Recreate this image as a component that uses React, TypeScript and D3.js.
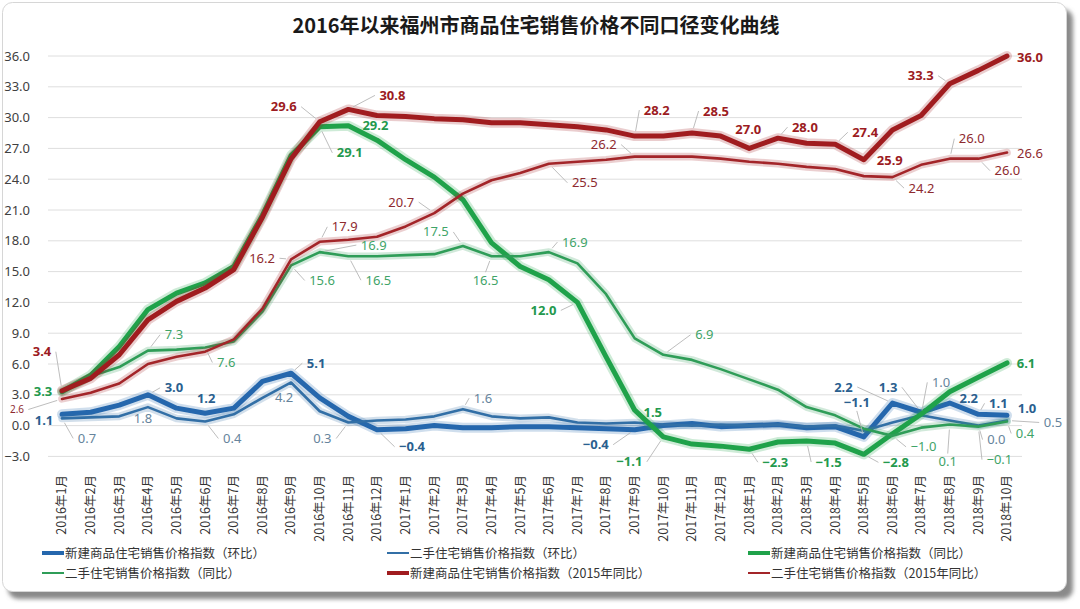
import React from 'react';
import * as d3 from 'd3';

const title = '2016年以来福州市商品住宅销售价格不同口径变化曲线';

const months = [
  '2016年1月', '2016年2月', '2016年3月', '2016年4月', '2016年5月', '2016年6月',
  '2016年7月', '2016年8月', '2016年9月', '2016年10月', '2016年11月', '2016年12月',
  '2017年1月', '2017年2月', '2017年3月', '2017年4月', '2017年5月', '2017年6月',
  '2017年7月', '2017年8月', '2017年9月', '2017年10月', '2017年11月', '2017年12月',
  '2018年1月', '2018年2月', '2018年3月', '2018年4月', '2018年5月', '2018年6月',
  '2018年7月', '2018年8月', '2018年9月', '2018年10月',
];

// 新建商品住宅销售价格指数（环比）
const newMoM = [1.1, 1.3, 2.0, 3.0, 1.7, 1.2, 1.7, 4.3, 5.1, 2.7, 0.9, -0.4, -0.3, 0.0, -0.2, -0.2, -0.1, -0.1, -0.2, -0.3, -0.4, 0.0, 0.2, -0.1, 0.0, 0.1, -0.2, -0.1, -1.1, 2.2, 1.3, 2.2, 1.1, 1.0];
// 二手住宅销售价格指数（环比）
const secMoM = [0.7, 0.8, 0.9, 1.8, 0.7, 0.4, 1.1, 2.7, 4.2, 1.4, 0.3, 0.5, 0.6, 0.9, 1.6, 0.9, 0.7, 0.8, 0.3, 0.2, 0.3, 0.1, 0.0, 0.1, 0.0, 0.1, -0.1, 0.0, -0.5, 0.3, 1.0, 0.5, 0.0, 0.5];
// 新建商品住宅销售价格指数（同比）
const newYoY = [3.3, 4.9, 7.7, 11.3, 12.9, 13.9, 15.5, 20.5, 26.3, 29.1, 29.2, 27.8, 25.9, 24.2, 22.0, 17.8, 15.5, 14.2, 12.0, 6.7, 1.5, -1.1, -1.8, -2.0, -2.3, -1.6, -1.5, -1.7, -2.8, -0.8, 1.1, 3.3, 4.7, 6.1];
// 二手住宅销售价格指数（同比）
const secYoY = [3.3, 4.8, 5.7, 7.3, 7.4, 7.6, 8.2, 11.1, 15.6, 16.9, 16.5, 16.5, 16.6, 16.7, 17.5, 16.5, 16.5, 16.9, 15.8, 12.8, 8.5, 6.9, 6.4, 5.5, 4.5, 3.5, 1.8, 1.0, -0.3, -1.0, -0.2, 0.1, -0.1, 0.4];
// 新建商品住宅销售价格指数（2015年同比）
const newYoY15 = [3.4, 4.6, 6.9, 10.3, 12.1, 13.4, 15.2, 20.3, 26.0, 29.6, 30.8, 30.2, 30.1, 29.9, 29.8, 29.5, 29.5, 29.3, 29.1, 28.8, 28.2, 28.2, 28.5, 28.2, 27.0, 28.0, 27.5, 27.4, 25.9, 28.8, 30.2, 33.3, 34.6, 36.0];
// 二手住宅销售价格指数（2015年同比）
const secYoY15 = [2.6, 3.2, 4.1, 6.0, 6.7, 7.2, 8.4, 11.4, 16.2, 17.9, 18.1, 18.4, 19.4, 20.7, 22.6, 23.9, 24.6, 25.5, 25.7, 25.9, 26.2, 26.2, 26.2, 26.0, 25.7, 25.5, 25.2, 25.0, 24.3, 24.2, 25.4, 26.0, 26.0, 26.6];

const seriesNames = [
  '新建商品住宅销售价格指数（环比）',
  '二手住宅销售价格指数（环比）',
  '新建商品住宅销售价格指数（同比）',
  '二手住宅销售价格指数（同比）',
  '新建商品住宅销售价格指数（2015年同比）',
  '二手住宅销售价格指数（2015年同比）',
];
const seriesValues = [newMoM, secMoM, newYoY, secYoY, newYoY15, secYoY15];

const yTicks = [-3, 0, 3, 6, 9, 12, 15, 18, 21, 24, 27, 30, 33, 36];

// styles per series
const styles = [
  { color: '#2567ad', width: 5, labelColor: '#2a5f8f', bold: true },
  { color: '#326fa6', width: 2.6, labelColor: '#66849c', bold: false },
  { color: '#1fa24a', width: 5, labelColor: '#23994d', bold: true },
  { color: '#2f9d58', width: 2.6, labelColor: '#3fa468', bold: false },
  { color: '#a01c1f', width: 5, labelColor: '#9c1b22', bold: true },
  { color: '#a32529', width: 2.6, labelColor: '#8e2a2f', bold: false },
];

// data label placement: [series, monthIndex, dx, dy, leader, fontSize?]
const labelSpecs: [number, number, number, number, number, number?][] = [
  [4, 0, -20, -39, 1], [4, 9, -36, -15, 1], [4, 10, 44, -14, 1], [4, 20, 22, -26, 1],
  [4, 22, 24, -22, 1], [4, 24, -1, -19, 0], [4, 25, 27, -11, 1], [4, 27, 30, -12, 1],
  [4, 28, 26, 1, 0], [4, 31, -29, -8, 1], [4, 33, 23, 1, 0],
  [5, 0, -45, 10.6, 1, 10], [5, 8, -29, -1, 1], [5, 9, 25, -15, 1], [5, 13, -33, -11, 1],
  [5, 17, 36, 19, 1], [5, 20, -31, -12, 1], [5, 29, 29, 11, 1], [5, 31, 22, -20, 1],
  [5, 32, 29, 12, 1], [5, 33, 23, 1, 0],
  [2, 0, -19, 0, 0], [2, 9, 30, 26, 1], [2, 10, 27, 0, 0], [2, 18, -34, 8, 1],
  [2, 20, 18, 2, 0], [2, 21, -34, 25, 1], [2, 24, 26, 13, 1], [2, 26, 22, 21, 1],
  [2, 28, 32, 8, 1], [2, 33, 19, 0, 0],
  [3, 3, 26, -16, 1], [3, 5, 21, 15, 1], [3, 8, 31, 15, 1], [3, 9, 54, -7, 1],
  [3, 10, 30, 24, 1], [3, 14, -27, -14, 1], [3, 15, -6, 24, 1], [3, 17, 26, -10, 1],
  [3, 21, 41, -20, 1], [3, 29, 31, 11, 1], [3, 31, -2, 37, 1], [3, 32, 21, 33, 1],
  [3, 33, 18, 12, 1],
  [0, 0, -18, 6, 0], [0, 3, 26, -7, 1], [0, 5, 1, -15, 0], [0, 8, 25, -10, 1],
  [0, 11, 35, 17, 1], [0, 20, -39, 15, 1], [0, 28, -7, -34, 1], [0, 29, -49, -16, 1],
  [0, 30, -33, -25, 1], [0, 31, 19, -5, 0], [0, 32, 20, -11, 1], [0, 33, 20, -7, 0],
  [1, 0, 25, 20, 1], [1, 3, -5, 11, 0], [1, 5, 27, 17, 1], [1, 8, -7, 15, 0],
  [1, 10, -26, 16, 1], [1, 14, 20, -11, 1], [1, 30, 20, -33, 1], [1, 32, 18, 14, 1],
  [1, 33, 46, 2, 1],
];

const W = 1080;
const H = 609;
const FONT = '"Noto Sans CJK SC", "Noto Sans", sans-serif';
const NUMFONT = '"Noto Sans", "Open Sans", sans-serif';

export default function App() {
  const x = d3.scalePoint<string>().domain(months).range([62, 1007]);
  const y = d3.scaleLinear().domain([-3, 36]).range([456.4, 56]);
  const line = d3
    .line<number>()
    .x((_, i) => x(months[i]) as number)
    .y((d) => y(d));

  const fmt = d3.format('.1f');

  const legendCols = [42, 387, 748];
  const legendRows = [553, 573];

  return (
    <div style={{ position: 'absolute', left: 0, top: 0 }}>
      <svg width={W} height={H} style={{ display: 'block' }} fontFamily={FONT}>
        <defs>
          <filter id="shadow" x="-5%" y="-5%" width="110%" height="110%">
            <feGaussianBlur stdDeviation="2" />
          </filter>
        </defs>
        <rect x={0} y={0} width={W} height={H} fill="#ffffff" />
        <rect x={8} y={9} width={1065} height={590} rx={10} fill="#8a8a8a" filter="url(#shadow)" />
        <rect x={2.5} y={2.5} width={1064} height={589} rx={10} fill="#ffffff" stroke="#d6d6d6" />

        <text x={536} y={33} textAnchor="middle" fontSize={20} fontWeight="bold" fill="#1a1a1a">
          {title}
        </text>

        {yTicks.map((t) => (
          <g key={t}>
            <line x1={48} x2={1022} y1={y(t)} y2={y(t)} stroke="#dedede" strokeWidth={1} />
            <text x={30} y={y(t) + 4.5} textAnchor="end" fontSize={13} fill="#404040" fontFamily={NUMFONT}>
              {fmt(t)}
            </text>
          </g>
        ))}

        {months.map((m) => (
          <text
            key={m}
            transform={`translate(${x(m)},475) rotate(-90)`}
            textAnchor="end"
            dy="0.35em"
            fontSize={12.5}
            fill="#333"
          >
            {m}
          </text>
        ))}

        {seriesValues.map((vals, s) => (
          <g key={s}>
            <path d={line(vals) || ''} fill="none" stroke={styles[s].color} strokeOpacity={0.22}
              strokeWidth={styles[s].width + 5} strokeLinejoin="round" strokeLinecap="round" />
            <path d={line(vals) || ''} fill="none" stroke={styles[s].color}
              strokeWidth={styles[s].width} strokeLinejoin="round" strokeLinecap="round" />
          </g>
        ))}

        {labelSpecs.map(([s, i, dx, dy, leader, size], k) => {
          const fs = size || 13;
          const v = seriesValues[s][i];
          const px = x(months[i]) as number;
          const py = y(v);
          const lx = px + dx;
          const ly = py + dy;
          const txt = fmt(v);
          const halfW = txt.length * fs * 0.277 + 1;
          let leaderEl = null;
          if (leader) {
            let sx: number;
            let sy: number;
            if (Math.abs(dx) > halfW + 3) {
              sx = lx - Math.sign(dx) * (halfW + 2);
              sy = ly;
            } else {
              sx = lx;
              sy = ly - Math.sign(dy) * 8;
            }
            const ddx = sx - px;
            const ddy = sy - py;
            const dist = Math.hypot(ddx, ddy);
            if (dist > 8) {
              const ex = px + (ddx / dist) * 5;
              const ey = py + (ddy / dist) * 5;
              leaderEl = (
                <polyline
                  points={`${sx},${sy} ${ex},${ey}`}
                  fill="none"
                  stroke="#b5b5b5"
                  strokeWidth={0.9}
                />
              );
            }
          }
          return (
            <g key={k}>
              {leaderEl}
              <text
                x={lx}
                y={ly + fs * 0.35}
                textAnchor="middle"
                fontSize={fs}
                fontFamily={NUMFONT}
                fontWeight={styles[s].bold ? 'bold' : 'normal'}
                fill={styles[s].labelColor}
              >
                {txt}
              </text>
            </g>
          );
        })}

        {seriesNames.map((name, s) => {
          const col = legendCols[s % 3];
          const row = legendRows[Math.floor(s / 3)];
          return (
            <g key={name}>
              <line x1={col} x2={col + 22} y1={row} y2={row} stroke={styles[s].color}
                strokeWidth={styles[s].width > 3 ? 4 : 2} />
              <text x={col + 23} y={row + 4.5} fontSize={12.5} fill="#333">
                {name}
              </text>
            </g>
          );
        })}
      </svg>
    </div>
  );
}
